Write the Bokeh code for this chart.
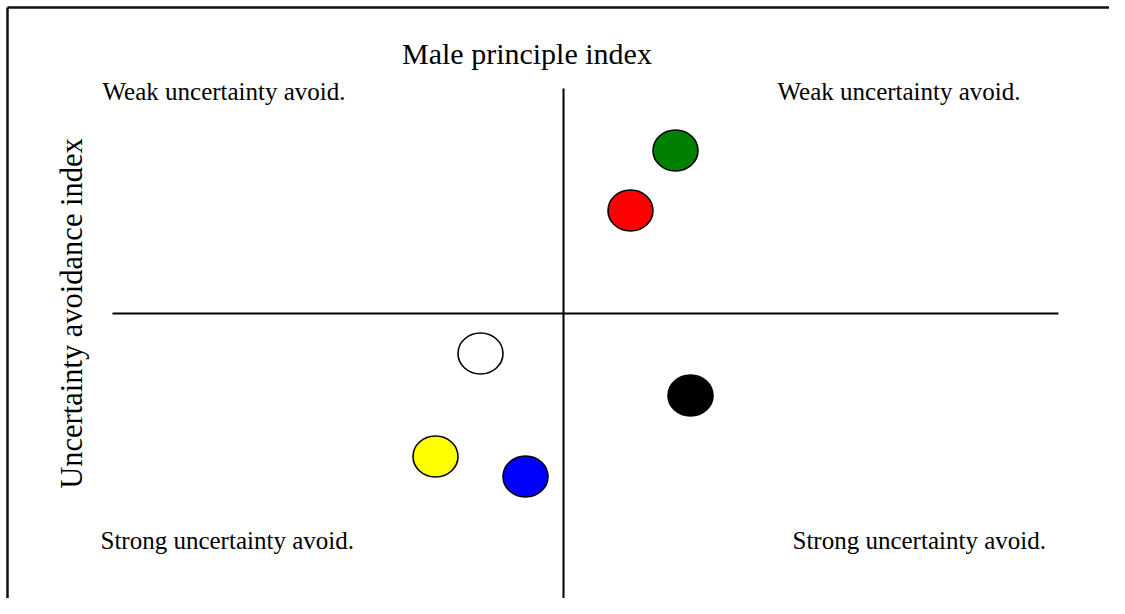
import numpy as np
from bokeh.plotting import figure
from bokeh.models import Range1d, ColumnDataSource
from bokeh.core.properties import value
from bokeh.embed import file_html
from bokeh.resources import INLINE

# ---- data (index values; 0 = centre of the quadrant cross)
colors = ["green", "red", "white", "black", "yellow", "blue"]
male_principle = [22.4, 13.4, -16.6, 25.4, -25.6, -7.6]
uncertainty_avoid = [32.6, 20.6, -8.0, -16.4, -28.6, -32.6]

title_text = "Male principle index"
ylabel_text = "Uncertainty avoidance index"
corner_texts = ["Weak uncertainty avoid.", "Weak uncertainty avoid.",
                "Strong uncertainty avoid.", "Strong uncertainty avoid."]

FONT = "Liberation Serif"

p = figure(width=1109, height=598, output_backend="svg", toolbar_location=None,
           x_range=Range1d(-112.6, 109.2), y_range=Range1d(-57, 62.6),
           min_border=0)
p.axis.visible = False
p.grid.visible = False
p.outline_line_color = None
p.background_fill_color = "white"
p.border_fill_color = "white"

# frame lines (top and left)
p.segment(x0=[-111.2, -111.2], y0=[61.2, 61.2], x1=[-111.2, 112], y1=[-60, 61.2],
          line_color="#111111", line_width=2.5)

# quadrant cross
p.segment(x0=[0, -90.2], y0=[45, 0], x1=[0, 99], y1=[-57, 0],
          line_color="black", line_width=2)

# points
src = ColumnDataSource(dict(x=male_principle, y=uncertainty_avoid, c=colors))
p.ellipse(x="x", y="y", width=45, height=41, width_units="screen", height_units="screen",
          fill_color="c", line_color="black", line_width=1.6, source=src)

# title
p.text(x=[-32.3], y=[52.1], text=[title_text], text_font=value(FONT),
       text_font_size="30px", text_color="black", text_align="left",
       text_baseline="alphabetic")

# y label
p.text(x=[-98.4], y=[0], text=[ylabel_text], text_font=value(FONT),
       text_font_size="30.5px", text_color="black", text_align="center",
       text_baseline="alphabetic", angle=np.pi / 2)

# corner labels
p.text(x=[-92.2, 42.8, -92.6, 45.8], y=[44.4, 44.4, -45.3, -45.3], text=corner_texts,
       text_font=value(FONT), text_font_size="25px", text_color="black",
       text_align="left", text_baseline="alphabetic")

open("out.html", "w").write(file_html(p, INLINE))
